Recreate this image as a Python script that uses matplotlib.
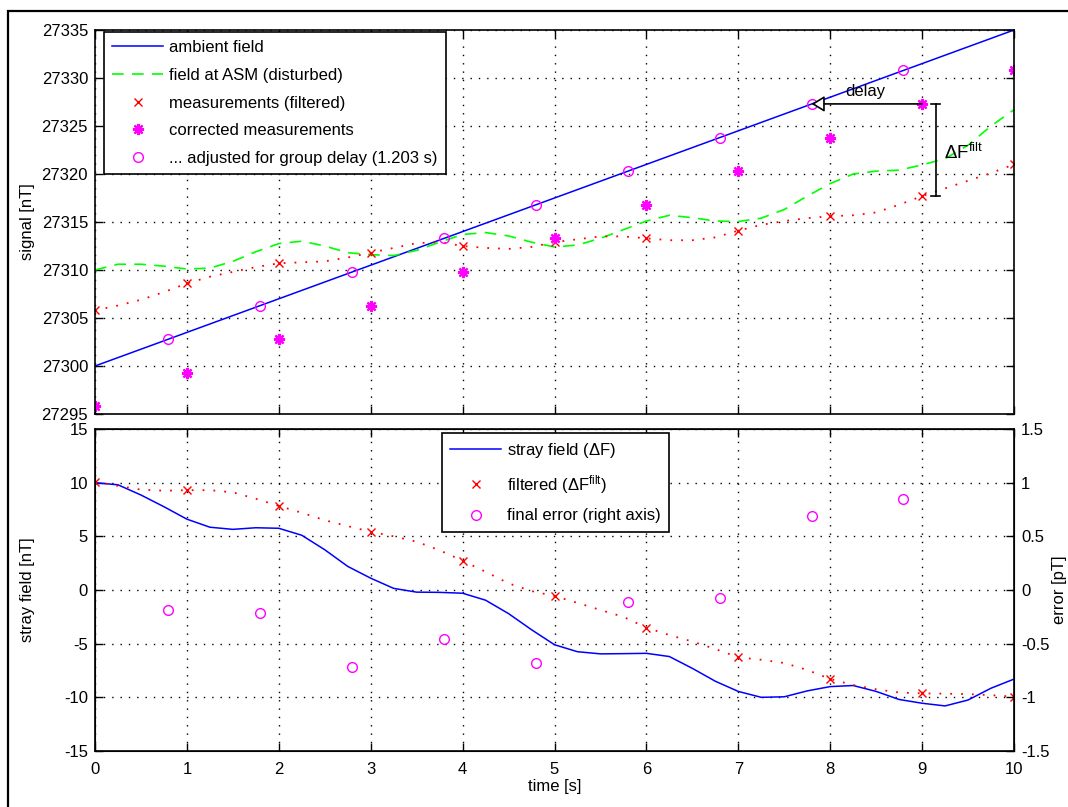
import matplotlib

matplotlib.use("Agg")
import matplotlib.pyplot as plt
from matplotlib.lines import Line2D
from matplotlib.patches import Rectangle
from matplotlib.ticker import FormatStrFormatter, ScalarFormatter

plt.rcParams["font.family"] = ["Liberation Sans", "DejaVu Sans"]
plt.rcParams["font.size"] = 12
plt.rcParams["axes.unicode_minus"] = False
plt.rcParams["mathtext.fontset"] = "custom"
plt.rcParams["mathtext.rm"] = "Liberation Sans"

# sample grid used for the continuous curves (s)
t_fine = [i * 0.25 for i in range(41)]
t_int = list(range(11))

# ambient field: straight line
ambient_t = [0, 10]
ambient_f = [27300.0, 27335.0]

# field at the ASM (ambient + stray)
asm_field = [
    27310.0, 27310.6, 27310.6, 27310.4, 27310.1, 27310.2, 27310.9, 27311.9,
    27312.75, 27313.0, 27312.5, 27311.8, 27311.6, 27311.5, 27312.05, 27312.9,
    27313.7, 27313.9, 27313.55, 27312.9, 27312.4, 27312.6, 27313.3, 27314.2,
    27315.1, 27315.7, 27315.45, 27315.1, 27315.05, 27315.4, 27316.3, 27317.7,
    27319.0, 27320.0, 27320.3, 27320.4, 27320.95, 27321.6, 27323.0, 27325.0,
    27326.7,
]

# filtered measurement curve and its samples
meas_curve = [
    27305.8, 27306.3, 27306.9, 27307.7, 27308.6, 27309.3, 27309.8, 27310.3,
    27310.7, 27310.8, 27310.9, 27311.3, 27311.8, 27312.3, 27312.8, 27312.9,
    27312.5, 27312.3, 27312.2, 27312.4, 27312.9, 27313.2, 27313.5, 27313.5,
    27313.3, 27313.1, 27313.1, 27313.4, 27314.1, 27314.7, 27315.1, 27315.4,
    27315.6, 27315.7, 27316.0, 27316.8, 27317.7, 27318.5, 27319.3, 27320.1,
    27321.0,
]
meas_samples = [27305.8, 27308.6, 27310.7, 27311.8, 27312.5, 27312.9,
                27313.3, 27314.1, 27315.6, 27317.7, 27321.0]

corrected = [27295.8, 27299.3, 27302.8, 27306.3, 27309.8, 27313.3,
             27316.8, 27320.3, 27323.8, 27327.3, 27330.8]

adjusted_t = [0.797, 1.797, 2.797, 3.797, 4.797, 5.797, 6.797, 7.797, 8.797]
adjusted_f = [27302.8, 27306.3, 27309.8, 27313.3, 27316.8, 27320.3,
              27323.8, 27327.3, 27330.8]

# bottom panel
stray = [
    10.0, 9.8, 8.85, 7.76, 6.6, 5.85, 5.65, 5.8, 5.75, 5.1, 3.75, 2.2, 1.1,
    0.15, -0.2, -0.22, -0.3, -0.95, -2.2, -3.7, -5.1, -5.75, -5.95, -5.93,
    -5.9, -6.2, -7.3, -8.5, -9.45, -10.0, -9.95, -9.4, -9.0, -8.9, -9.45,
    -10.2, -10.55, -10.8, -10.25, -9.15, -8.3,
]
stray_filt_curve = [
    10.1, 9.7, 9.35, 9.25, 9.3, 9.3, 9.1, 8.5, 7.83, 7.2, 6.5, 5.95, 5.43,
    5.0, 4.5, 3.7, 2.73, 1.7, 0.62, -0.1, -0.56, -1.2, -1.86, -2.5, -3.51,
    -4.2, -4.8, -5.5, -6.27, -6.5, -6.8, -7.45, -8.29, -8.85, -9.25, -9.55,
    -9.63, -9.66, -9.7, -9.8, -9.94,
]
stray_filt_samples = [10.1, 9.3, 7.83, 5.43, 2.73, -0.56, -3.51, -6.27,
                      -8.29, -9.63, -9.94]
final_error = [-0.19, -0.21, -0.72, -0.46, -0.68, -0.11, -0.07, 0.69, 0.85]

BLUE = "#0000ff"
GREEN = "#00ff00"
RED = "#ff0000"
MAGENTA = "#ff00ff"
GRID = dict(color="k", linestyle=(0, (1, 5)), linewidth=1.0)
ASTERISK = (8, 2, 0)
LEGEND_OPTS = dict(fancybox=False, framealpha=1, edgecolor="k", fontsize=12,
                   handlelength=3.05, labelspacing=0.76, borderpad=0.5,
                   handletextpad=0.35, borderaxespad=0)


def style_axes(ax):
    ax.grid(True, **GRID)
    ax.tick_params(direction="in", length=6, width=1, top=True, right=True,
                   labelsize=12, pad=5)
    ax.tick_params(axis="x", pad=8)
    for spine in ax.spines.values():
        spine.set_linewidth(1.2)


fig = plt.figure(figsize=(10.68, 8.07), dpi=100)
fig.patches.append(Rectangle((8 / 1068, -0.02), 1.05, 1.02 - 11 / 807,
                             transform=fig.transFigure, fill=False,
                             edgecolor="k", linewidth=1.6))

ax1 = fig.add_axes([95 / 1068, 1 - 414 / 807, 919 / 1068, 384 / 807])
ax1.plot(ambient_t, ambient_f, color=BLUE, lw=1.1)
ax1.plot(t_fine, asm_field, color=GREEN, lw=1.2, dashes=(7, 5))
ax1.plot(t_fine, meas_curve, color=RED, lw=1.3, linestyle=(0, (1, 5)))
ax1.plot(t_int, meas_samples, "x", color=RED, ms=6, mew=1.0)
ax1.plot(t_int, corrected, linestyle="none", marker=ASTERISK, color=MAGENTA,
         ms=8, mew=1.6)
ax1.plot(adjusted_t, adjusted_f, "o", color=MAGENTA, mfc="none", ms=7, mew=1.0)

# delay arrow and delta-F bracket
ax1.annotate("", xy=(adjusted_t[-2], corrected[9]), xytext=(9, corrected[9]),
             arrowprops=dict(arrowstyle="-|>,head_length=0.65,head_width=0.4",
                             fc="white", ec="k", lw=1.2, shrinkA=0, shrinkB=0))
ax1.text(8.38, 27328.6, "delay", ha="center", va="center", fontsize=12)
ax1.plot([9.15, 9.15], [meas_samples[9], corrected[9]], color="k", lw=1.2)
for yy in (meas_samples[9], corrected[9]):
    ax1.plot([9.1, 9.2], [yy, yy], color="k", lw=1.2)
ax1.text(9.24, 27322.2, r"$\mathregular{\Delta F^{filt}}$", ha="left",
         va="center", fontsize=13.5)

ax1.set_xlim(0, 10)
ax1.set_ylim(27295, 27335)
ax1.set_xticks(t_int)
ax1.set_xticklabels([])
ax1.set_yticks(range(27295, 27336, 5))
ax1.yaxis.set_major_formatter(ScalarFormatter(useOffset=False))
style_axes(ax1)
ax1.set_ylabel("signal [nT]", fontsize=12)
ax1.yaxis.set_label_coords(-0.0656, 0.5)

handles1 = [
    Line2D([], [], color=BLUE, lw=1.1),
    Line2D([], [], color=GREEN, lw=1.2, dashes=(7, 5)),
    Line2D([], [], color=RED, marker="x", linestyle="none", ms=6),
    Line2D([], [], color=MAGENTA, marker=ASTERISK, linestyle="none", ms=8, mew=1.6),
    Line2D([], [], color=MAGENTA, marker="o", mfc="none", linestyle="none", ms=7),
]
labels1 = ["ambient field", "field at ASM (disturbed)", "measurements (filtered)",
           "corrected measurements", "... adjusted for group delay (1.203 s)"]
leg1 = ax1.legend(handles1, labels1, loc="upper left",
                  bbox_to_anchor=(0.0098, 0.995), **LEGEND_OPTS)
leg1.get_frame().set_linewidth(1.2)

# bottom panel
ax2 = fig.add_axes([95 / 1068, 1 - 751 / 807, 919 / 1068, 322 / 807])
ax2.plot(t_fine, stray, color=BLUE, lw=1.1)
ax2.plot(t_fine, stray_filt_curve, color=RED, lw=1.3, linestyle=(0, (1, 5)))
ax2.plot(t_int, stray_filt_samples, "x", color=RED, ms=6, mew=1.0)
ax2.set_xlim(0, 10)
ax2.set_ylim(-15, 15)
ax2.set_xticks(t_int)
ax2.set_yticks(range(-15, 16, 5))
style_axes(ax2)
ax2.tick_params(right=False)
ax2.set_ylabel("stray field [nT]", fontsize=12)
ax2.yaxis.set_label_coords(-0.0656, 0.5)
ax2.set_xlabel("time [s]", fontsize=12)
ax2.xaxis.set_label_coords(0.5, -0.087)

ax3 = ax2.twinx()
ax3.plot(adjusted_t, final_error, "o", color=MAGENTA, mfc="none", ms=7, mew=1.0)
ax3.set_ylim(-1.5, 1.5)
ax3.set_yticks([-1.5, -1, -0.5, 0, 0.5, 1, 1.5])
ax3.yaxis.set_major_formatter(FormatStrFormatter("%g"))
ax3.tick_params(direction="in", length=6, width=1, labelsize=12, pad=5)
ax3.set_ylabel("error [pT]", fontsize=12)
ax3.yaxis.set_label_coords(1.0414, 0.5)

handles2 = [
    Line2D([], [], color=BLUE, lw=1.1),
    Line2D([], [], color=RED, marker="x", linestyle="none", ms=6),
    Line2D([], [], color=MAGENTA, marker="o", mfc="none", linestyle="none", ms=7),
]
labels2 = [r"stray field ($\mathregular{\Delta}$F)",
           r"filtered ($\mathregular{\Delta F^{filt}}$)",
           "final error (right axis)"]
leg2 = ax3.legend(handles2, labels2, loc="upper center",
                  bbox_to_anchor=(0.501, 0.988), **LEGEND_OPTS)
leg2.get_frame().set_linewidth(1.2)

fig.savefig("out.png", dpi=100)
